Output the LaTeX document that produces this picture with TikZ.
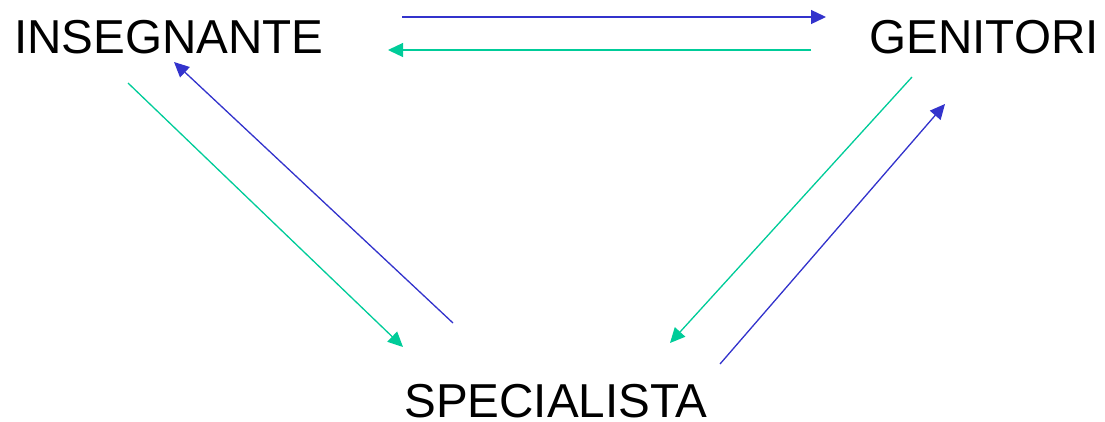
\documentclass[tikz,border=0pt]{standalone}
\usepackage{fontspec}
\setmainfont{Liberation Sans}
\usetikzlibrary{arrows.meta}
\definecolor{cblue}{HTML}{3333CC}
\definecolor{cgreen}{HTML}{00CC99}
\begin{document}
\begin{tikzpicture}[x=1pt,y=-1pt,
  lbl/.style={anchor=base,inner sep=0pt,text depth=0pt,font=\fontsize{47.6}{50}\selectfont},
  arr/.style={line width=1.3pt,-{Triangle[length=15pt,width=14pt]}},
  barr/.style={arr,draw=cblue,fill=cblue},
  garr/.style={arr,draw=cgreen,fill=cgreen}]
\useasboundingbox (0,0) rectangle (1105,421);
\node[lbl] (ins) at (169,53) {INSEGNANTE};
\node[lbl] (gen) at (984,53) {GENITORI};
\node[lbl] (spe) at (556,417) {SPECIALISTA};
\coordinate (a1s) at (402,17);  \coordinate (a1e) at (826,17);
\coordinate (a2s) at (811,50);  \coordinate (a2e) at (388,50);
\coordinate (a3s) at (453,323); \coordinate (a3e) at (174,62);
\coordinate (a4s) at (128,83);  \coordinate (a4e) at (403,347);
\coordinate (a5s) at (912,77);  \coordinate (a5e) at (670,343);
\coordinate (a6s) at (720,364); \coordinate (a6e) at (945,104);
\draw[barr] (a1s) -- (a1e);
\draw[garr] (a2s) -- (a2e);
\draw[barr] (a3s) -- (a3e);
\draw[garr] (a4s) -- (a4e);
\draw[garr] (a5s) -- (a5e);
\draw[barr] (a6s) -- (a6e);
\end{tikzpicture}
\end{document}
